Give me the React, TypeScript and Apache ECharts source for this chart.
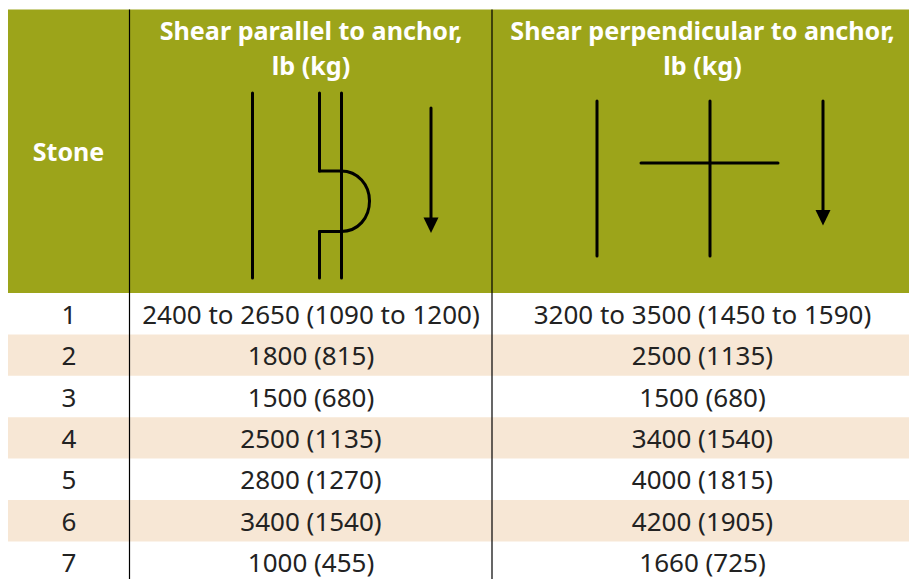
import React, { useEffect, useRef } from "react";
import * as echarts from "echarts";

const stoneHeader = "Stone";
const parallelHeader = ["Shear parallel to anchor,", "lb (kg)"];
const perpendicularHeader = ["Shear perpendicular to anchor,", "lb (kg)"];
const stones = ["1", "2", "3", "4", "5", "6", "7"];
const parallelValues = [
  "2400 to 2650 (1090 to 1200)",
  "1800 (815)",
  "1500 (680)",
  "2500 (1135)",
  "2800 (1270)",
  "3400 (1540)",
  "1000 (455)",
];
const perpendicularValues = [
  "3200 to 3500 (1450 to 1590)",
  "2500 (1135)",
  "1500 (680)",
  "3400 (1540)",
  "4000 (1815)",
  "4200 (1905)",
  "1660 (725)",
];

const OLIVE = "#9ca41a";
const PEACH = "#f7e7d5";
const FONT = '"Noto Sans", sans-serif';
const LEFT = 8;
const RIGHT = 909;
const TOP = 9.5;
const HEADER_BOTTOM = 293;
const ROW_H = 41.4;
const COL1 = 129.5;
const COL2 = 492;

function stroke(width = 3) {
  return { stroke: "#000", lineWidth: width, fill: "none", lineCap: "round" };
}
function vline(x: number, y1: number, y2: number, width?: number) {
  return { type: "line", shape: { x1: x, y1, x2: x, y2 }, style: stroke(width), silent: true };
}
function hline(x1: number, x2: number, y: number, width?: number) {
  return { type: "line", shape: { x1, y1: y, x2, y2: y }, style: stroke(width), silent: true };
}
function arrow(x: number, y1: number, y2: number, tip: number) {
  return [
    vline(x, y1, y2),
    {
      type: "polygon",
      shape: { points: [[x - 7.5, y2], [x + 7.5, y2], [x, tip]] },
      style: { fill: "#000" },
      silent: true,
    },
  ];
}
function label(text: string, x: number, y: number, size: number, color: string, weight: string | number) {
  return {
    type: "text",
    x,
    y,
    silent: true,
    style: {
      text,
      fill: color,
      font: `${weight} ${size}px ${FONT}`,
      align: "center",
      verticalAlign: "middle",
    },
  };
}

function buildGraphics() {
  const els: any[] = [];
  els.push({
    type: "rect",
    shape: { x: LEFT, y: TOP, width: RIGHT - LEFT, height: HEADER_BOTTOM - TOP },
    style: { fill: OLIVE },
    silent: true,
  });
  stones.forEach((_, i) => {
    if (i % 2 === 1) {
      els.push({
        type: "rect",
        shape: { x: LEFT, y: HEADER_BOTTOM + i * ROW_H, width: RIGHT - LEFT, height: ROW_H },
        style: { fill: PEACH },
        silent: true,
      });
    }
  });
  [COL1, COL2].forEach((x) => {
    els.push({
      type: "line",
      shape: { x1: x, y1: TOP, x2: x, y2: 579 },
      style: { stroke: "#000", lineWidth: 1.2 },
      silent: true,
    });
  });

  const centers = [68.5, 311, 702.5];
  els.push(label(stoneHeader, centers[0], 151, 25, "#fff", 700));
  parallelHeader.forEach((t, i) => els.push(label(t, centers[1], 30 + i * 35, 25.15, "#fff", 700)));
  perpendicularHeader.forEach((t, i) => els.push(label(t, centers[2], 30 + i * 35, 25.15, "#fff", 700)));

  stones.forEach((s, i) => {
    const y = HEADER_BOTTOM + (i + 0.5) * ROW_H;
    els.push(label(s, centers[0] + 0.5, y, 26, "#222", 400));
    els.push(label(parallelValues[i], centers[1], y, 26, "#222", 400));
    els.push(label(perpendicularValues[i], centers[2], y, 26, "#222", 400));
  });

  // Anchor sketch, shear parallel
  els.push(vline(252.5, 93, 278));
  els.push(vline(319.5, 93, 171));
  els.push(hline(319.5, 341, 171));
  els.push(vline(341.5, 93, 278));
  els.push(hline(319.5, 341, 231.5));
  els.push(vline(319.5, 231.5, 278));
  els.push({
    type: "bezierCurve",
    shape: { x1: 341, y1: 171, cpx1: 358, cpy1: 171, cpx2: 369.5, cpy2: 185, x2: 369.5, y2: 201 },
    style: stroke(),
    silent: true,
  });
  els.push({
    type: "bezierCurve",
    shape: { x1: 369.5, y1: 201, cpx1: 369.5, cpy1: 218, cpx2: 358, cpy2: 231.5, x2: 341, y2: 231.5 },
    style: stroke(),
    silent: true,
  });
  els.push(...arrow(431, 108, 217.5, 233));

  // Anchor sketch, shear perpendicular
  els.push(vline(597, 101, 256));
  els.push(vline(710, 101, 256));
  els.push(hline(641, 778, 163));
  els.push(...arrow(823, 101, 210, 225.5));
  return els;
}

export default function App() {
  const ref = useRef<HTMLDivElement>(null);
  useEffect(() => {
    const chart = echarts.init(ref.current!, undefined, { renderer: "svg" });
    chart.setOption({
      animation: false,
      backgroundColor: "#fff",
      graphic: { elements: buildGraphics() },
    });
    return () => chart.dispose();
  }, []);
  return <div ref={ref} style={{ position: "fixed", left: 0, top: 0, width: 909, height: 579 }} />;
}
